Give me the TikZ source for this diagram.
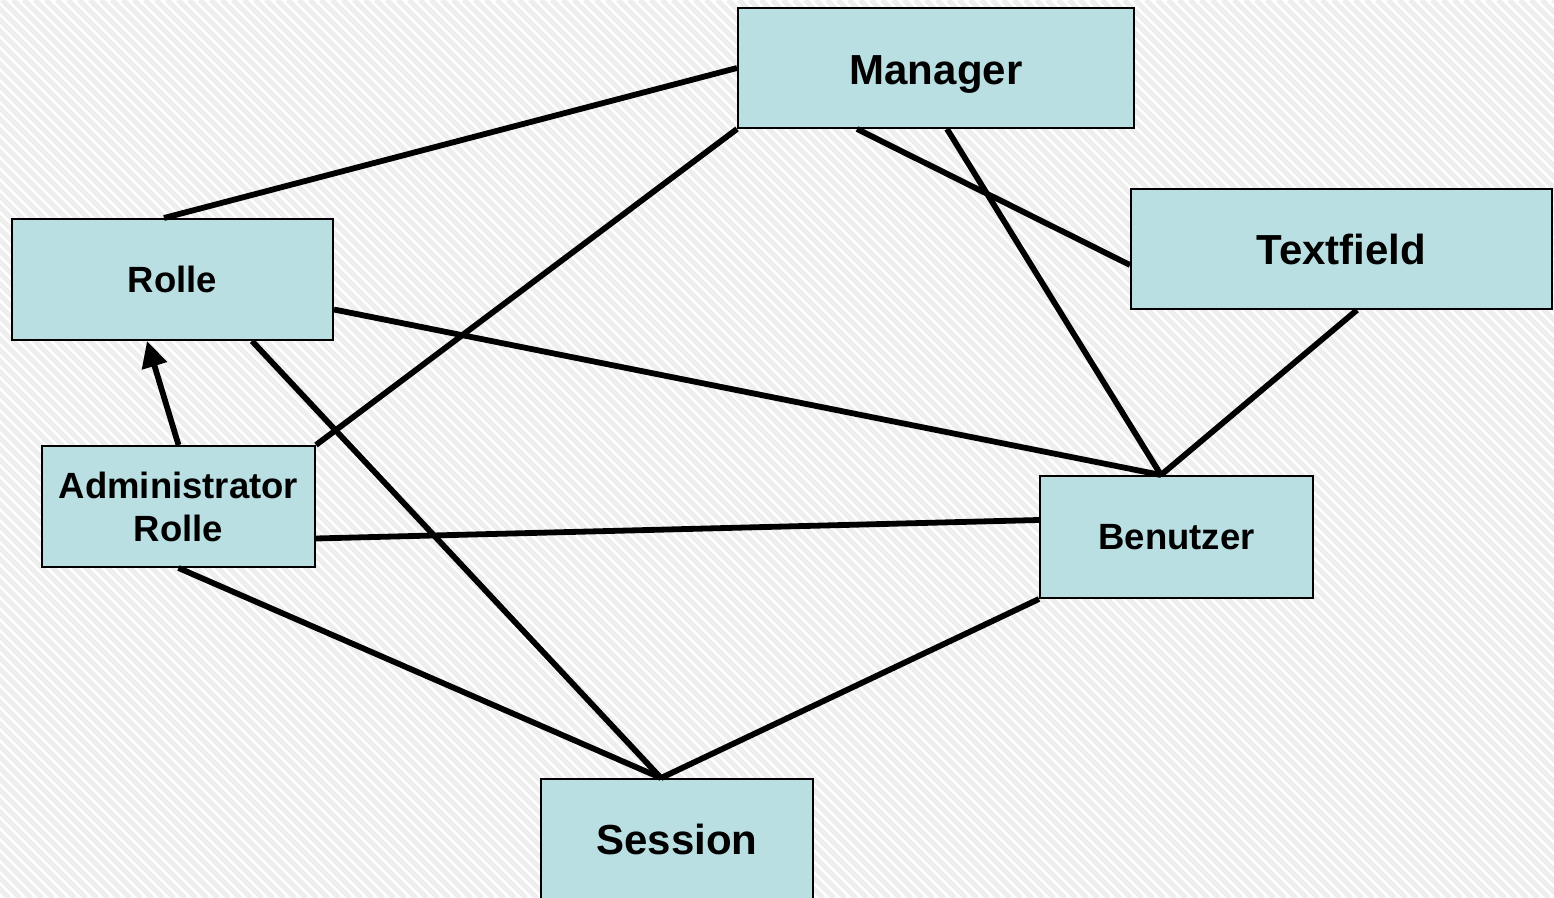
\documentclass[tikz,border=0pt]{standalone}
\usepackage{fontspec}
\setmainfont{Liberation Sans}
\usetikzlibrary{calc,arrows.meta}
\definecolor{boxfill}{HTML}{B9DFE3}
\definecolor{stripe}{HTML}{EEEEEE}
\tikzset{
  box/.style={draw=black, line width=1pt, fill=boxfill, rectangle, inner sep=0pt, font=\bfseries},
  big/.style={font=\bfseries\fontsize{21}{25}\selectfont},
  small/.style={font=\bfseries\fontsize{18.25}{21.5}\selectfont},
  conn/.style={line width=2.9pt, black},
}
\begin{document}
\begin{tikzpicture}[x=0.5pt, y=-0.5pt]
\useasboundingbox (0,0) rectangle (1554,898);
\clip (0,0) rectangle (1554,898);
\fill[white] (0,0) rectangle (1554,898);
\foreach \s in {-900,-889,...,1560} {
  \draw[stripe, line width=2.6pt] (\s,0) -- (\s+898,898);
}
% boxes
\node[box, big, text height=17pt, text depth=0pt, minimum width=198pt, minimum height=60pt] (manager) at (936,68) {Manager};
\node[box, big, minimum width=210.5pt, minimum height=60pt] (textfield) at (1341.5,249) {Textfield};
\node[box, small, minimum width=160.5pt, minimum height=60.5pt] (rolle) at (172.5,279.5) {Rolle};
\node[box, small, align=center, minimum width=136.5pt, minimum height=60.5pt] (admin) at (178.5,506.5) {Administrator\\Rolle};
\node[box, small, minimum width=136.5pt, minimum height=61pt] (benutzer) at (1176.5,537) {Benutzer};
\node[box, big, minimum width=136pt, minimum height=60pt] (session) at (677,839) {Session};
% connector points
\coordinate (rtop) at ($(rolle.north west)+(153,0)$);
\coordinate (mb1) at ($(manager.south west)+(120,0)$);
\coordinate (mb2) at ($(manager.south west)+(210,0)$);
\coordinate (tl) at ($(textfield.west)+(0,16)$);
\coordinate (tb) at ($(textfield.south west)+(227,0)$);
\coordinate (bt) at ($(benutzer.north west)+(122,0)$);
\coordinate (bl) at ($(benutzer.west)+(0,-17)$);
\coordinate (rr) at ($(rolle.east)+(0,30)$);
\coordinate (rb1) at ($(rolle.south west)+(241,0)$);
\coordinate (rb2) at ($(rolle.south west)+(136,0)$);
\coordinate (st) at ($(session.north west)+(121,0)$);
\coordinate (ar) at ($(admin.east)+(0,32)$);
% connectors
\draw[conn] (rtop) -- (manager.west);
\draw[conn] (manager.south west) -- (admin.north east);
\draw[conn] (mb1) -- (tl);
\draw[conn] (mb2) -- (bt);
\draw[conn] (tb) -- (bt);
\draw[conn] (rr) -- (bt);
\draw[conn] (rb1) -- (st);
\draw[conn] (ar) -- (bl);
\draw[conn] (admin.south) -- (st);
\draw[conn] (benutzer.south west) -- (st);
\draw[conn, -{Triangle[length=13pt,width=12.5pt]}] (admin.north) -- (rb2);
\end{tikzpicture}
\end{document}
